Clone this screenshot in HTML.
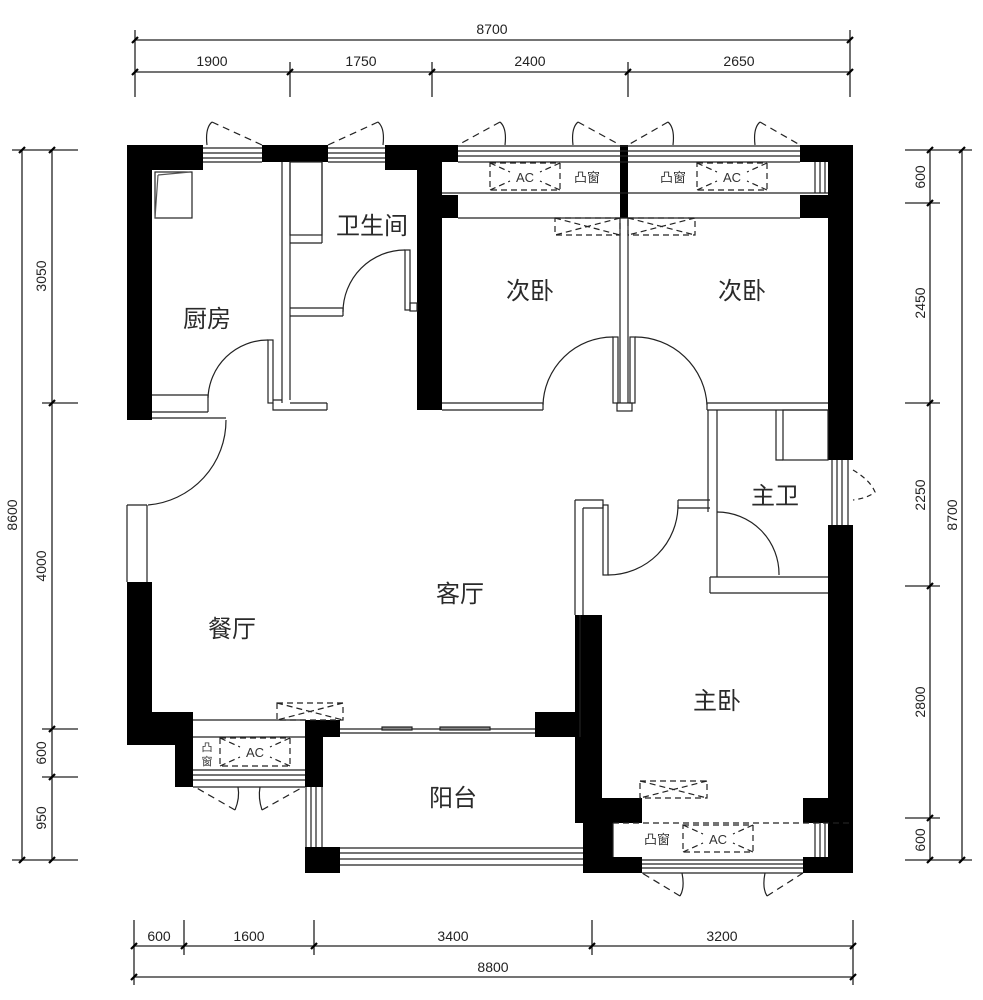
<!DOCTYPE html>
<html><head><meta charset="utf-8"><style>
html,body{margin:0;padding:0;background:#fff;}
svg{display:block}
.d{font-family:"Liberation Sans Narrow","Liberation Sans",sans-serif;font-size:14px;fill:#222}
.r{font-family:"Liberation Sans","Noto Sans CJK SC",sans-serif;font-size:24px;fill:#2a2a2a}
.s{font-family:"Liberation Sans","Noto Sans CJK SC",sans-serif;font-size:13px;fill:#333}
</style></head><body>
<svg width="983" height="1000" viewBox="0 0 983 1000" xmlns="http://www.w3.org/2000/svg">
<g stroke="#222" stroke-width="1.3" fill="none">
<line x1="135" y1="40" x2="850" y2="40"/>
<line x1="135" y1="72" x2="850" y2="72"/>
<line x1="135" y1="30" x2="135" y2="97"/><line x1="850" y1="30" x2="850" y2="97"/>
<line x1="290" y1="62" x2="290" y2="97"/><line x1="432" y1="62" x2="432" y2="97"/><line x1="628" y1="62" x2="628" y2="97"/>
<line x1="22" y1="150" x2="22" y2="860"/>
<line x1="52" y1="150" x2="52" y2="860"/>
<line x1="12" y1="150" x2="78" y2="150"/><line x1="12" y1="860" x2="78" y2="860"/>
<line x1="42" y1="403" x2="78" y2="403"/><line x1="42" y1="729" x2="78" y2="729"/><line x1="42" y1="777" x2="78" y2="777"/>
<line x1="930" y1="150" x2="930" y2="860"/>
<line x1="962" y1="150" x2="962" y2="860"/>
<line x1="905" y1="150" x2="972" y2="150"/><line x1="905" y1="860" x2="972" y2="860"/>
<line x1="905" y1="203" x2="940" y2="203"/><line x1="905" y1="403" x2="940" y2="403"/><line x1="905" y1="586" x2="940" y2="586"/><line x1="905" y1="818" x2="940" y2="818"/>
<line x1="134" y1="946" x2="853" y2="946"/>
<line x1="134" y1="977" x2="853" y2="977"/>
<line x1="134" y1="920" x2="134" y2="985"/><line x1="853" y1="920" x2="853" y2="985"/>
<line x1="184" y1="920" x2="184" y2="955"/><line x1="314" y1="920" x2="314" y2="955"/><line x1="592" y1="920" x2="592" y2="955"/>
</g>
<g stroke="#000" stroke-width="2.2">
<path d="M132 43 L138 37 M847 43 L853 37 M132 75 L138 69 M287 75 L293 69 M429 75 L435 69 M625 75 L631 69 M847 75 L853 69"/>
<path d="M19 153 L25 147 M19 863 L25 857 M49 153 L55 147 M49 406 L55 400 M49 732 L55 726 M49 780 L55 774 M49 863 L55 857"/>
<path d="M927 153 L933 147 M927 206 L933 200 M927 406 L933 400 M927 589 L933 583 M927 821 L933 815 M927 863 L933 857 M959 153 L965 147 M959 863 L965 857"/>
<path d="M131 949 L137 943 M181 949 L187 943 M311 949 L317 943 M589 949 L595 943 M850 949 L856 943 M131 980 L137 974 M850 980 L856 974"/>
</g>
<g class="d">
<text x="492" y="34" text-anchor="middle">8700</text>
<text x="212" y="66" text-anchor="middle">1900</text>
<text x="361" y="66" text-anchor="middle">1750</text>
<text x="530" y="66" text-anchor="middle">2400</text>
<text x="739" y="66" text-anchor="middle">2650</text>
<text x="159" y="941" text-anchor="middle">600</text>
<text x="249" y="941" text-anchor="middle">1600</text>
<text x="453" y="941" text-anchor="middle">3400</text>
<text x="722" y="941" text-anchor="middle">3200</text>
<text x="493" y="972" text-anchor="middle">8800</text>
<text transform="translate(17,515) rotate(-90)" text-anchor="middle">8600</text>
<text transform="translate(46,276) rotate(-90)" text-anchor="middle">3050</text>
<text transform="translate(46,566) rotate(-90)" text-anchor="middle">4000</text>
<text transform="translate(46,753) rotate(-90)" text-anchor="middle">600</text>
<text transform="translate(46,818) rotate(-90)" text-anchor="middle">950</text>
<text transform="translate(925,177) rotate(-90)" text-anchor="middle">600</text>
<text transform="translate(925,303) rotate(-90)" text-anchor="middle">2450</text>
<text transform="translate(925,495) rotate(-90)" text-anchor="middle">2250</text>
<text transform="translate(925,702) rotate(-90)" text-anchor="middle">2800</text>
<text transform="translate(925,840) rotate(-90)" text-anchor="middle">600</text>
<text transform="translate(957,515) rotate(-90)" text-anchor="middle">8700</text>
</g>

<g fill="#000">
<rect x="127" y="145" width="76" height="25"/>
<rect x="127" y="145" width="25" height="275"/>
<rect x="262" y="145" width="66" height="17"/>
<rect x="385" y="145" width="57" height="25"/>
<rect x="417" y="145" width="25" height="265"/>
<rect x="442" y="195" width="16" height="23"/>
<rect x="442" y="145" width="16" height="17"/>
<rect x="620" y="145" width="8" height="73"/>
<rect x="800" y="145" width="53" height="17"/>
<rect x="800" y="195" width="28" height="23"/>
<rect x="828" y="145" width="25" height="315"/>
<rect x="828" y="525" width="25" height="348"/>
<rect x="127" y="582" width="25" height="163"/>
<rect x="127" y="712" width="66" height="33"/>
<rect x="175" y="712" width="18" height="75"/>
<rect x="305" y="720" width="35" height="17"/>
<rect x="305" y="720" width="18" height="67"/>
<rect x="535" y="712" width="45" height="25"/>
<rect x="575" y="615" width="27" height="208"/>
<rect x="575" y="798" width="67" height="25"/>
<rect x="583" y="798" width="30" height="75"/>
<rect x="583" y="857" width="59" height="16"/>
<rect x="803" y="798" width="50" height="25"/>
<rect x="803" y="857" width="50" height="16"/>
<rect x="305" y="847" width="35" height="26"/>
</g>

<g stroke="#222" stroke-width="1.2" fill="none">
<line x1="203" y1="148" x2="262" y2="148"/><line x1="203" y1="153" x2="262" y2="153"/><line x1="203" y1="158" x2="262" y2="158"/><line x1="203" y1="162" x2="262" y2="162"/>
<line x1="328" y1="148" x2="385" y2="148"/><line x1="328" y1="153" x2="385" y2="153"/><line x1="328" y1="158" x2="385" y2="158"/><line x1="328" y1="162" x2="385" y2="162"/>
<line x1="458" y1="146" x2="800" y2="146"/><line x1="458" y1="151" x2="800" y2="151"/><line x1="458" y1="156" x2="800" y2="156"/><line x1="458" y1="162" x2="800" y2="162"/>
<line x1="442" y1="193" x2="800" y2="193"/>
<line x1="458" y1="218" x2="800" y2="218"/>
<line x1="815" y1="162" x2="815" y2="193"/><line x1="820" y1="162" x2="820" y2="193"/><line x1="825" y1="162" x2="825" y2="193"/>
<line x1="800" y1="193" x2="828" y2="193"/>
<path d="M207 145 Q205 128 212 122"/><path d="M212 122 L262 145" stroke-dasharray="7,5"/>
<path d="M383 145 Q385 128 378 122"/><path d="M378 122 L328 145" stroke-dasharray="7,5"/>
<path d="M505 145 Q507 128 500 122"/><path d="M500 122 L458 145" stroke-dasharray="7,5"/>
<path d="M573 145 Q571 128 578 122"/><path d="M578 122 L620 145" stroke-dasharray="7,5"/>
<path d="M673 145 Q675 128 668 122"/><path d="M668 122 L628 145" stroke-dasharray="7,5"/>
<path d="M755 145 Q753 128 760 122"/><path d="M760 122 L800 145" stroke-dasharray="7,5"/>
<g stroke-dasharray="6,4">
<rect x="490" y="163" width="70" height="27"/>
<path d="M490 163 L510 172 M560 163 L540 172 M490 190 L510 181 M560 190 L540 181"/>
<rect x="697" y="163" width="70" height="27"/>
<path d="M697 163 L717 172 M767 163 L747 172 M697 190 L717 181 M767 190 L747 181"/>
<rect x="555" y="218" width="65" height="17"/>
<path d="M555 218 L620 235 M620 218 L555 235"/>
<rect x="628" y="218" width="67" height="17"/>
<path d="M628 218 L695 235 M695 218 L628 235"/>
</g>
<rect x="155" y="172" width="37" height="46"/>
<path d="M158 175 L190 172 M158 175 L155 218" stroke="#555"/>
<line x1="152" y1="395" x2="208" y2="395"/><line x1="152" y1="412" x2="208" y2="412"/><line x1="208" y1="395" x2="208" y2="412"/>
<rect x="268" y="340" width="5" height="63"/>
<path d="M208 398 A60 60 0 0 1 268 340"/>
<line x1="282" y1="162" x2="282" y2="400"/><line x1="290" y1="162" x2="290" y2="400"/>
<path d="M273 400 L282 400 M273 403 L273 410 L290 410 M282 400 L282 403"/>
<rect x="290" y="162" width="32" height="73"/>
<line x1="290" y1="243" x2="322" y2="243"/><line x1="322" y1="162" x2="322" y2="243"/>
<line x1="290" y1="308" x2="343" y2="308"/><line x1="290" y1="316" x2="343" y2="316"/><line x1="343" y1="308" x2="343" y2="316"/>
<line x1="290" y1="403" x2="327" y2="403"/><line x1="290" y1="410" x2="327" y2="410"/><line x1="327" y1="403" x2="327" y2="410"/>
<rect x="405" y="250" width="5" height="60"/>
<rect x="410" y="303" width="7" height="8"/>
<path d="M343 312 A62 62 0 0 1 405 250"/>
<line x1="442" y1="403" x2="543" y2="403"/><line x1="442" y1="410" x2="543" y2="410"/><line x1="543" y1="403" x2="543" y2="410"/>
<line x1="620" y1="218" x2="620" y2="403"/><line x1="628" y1="218" x2="628" y2="403"/>
<rect x="613" y="337" width="5" height="66"/><rect x="630" y="337" width="5" height="66"/>
<rect x="617" y="403" width="15" height="8"/>
<path d="M543 405 A70 70 0 0 1 613 337"/>
<path d="M707 405 A72 72 0 0 0 635 337"/>
<line x1="707" y1="403" x2="828" y2="403"/><line x1="707" y1="410" x2="828" y2="410"/><line x1="707" y1="403" x2="707" y2="410"/>
<path d="M708 410 L708 512 M717 410 L717 512"/>
<rect x="783" y="410" width="45" height="50"/>
<path d="M776 410 L776 460 L783 460"/>
<line x1="717" y1="512" x2="717" y2="577"/>
<path d="M717 512 A62 62 0 0 1 779 575"/>
<path d="M710 577 L828 577 M710 593 L828 593 M710 577 L710 593"/>
<line x1="832" y1="460" x2="832" y2="525"/><line x1="837" y1="460" x2="837" y2="525"/><line x1="842" y1="460" x2="842" y2="525"/><line x1="848" y1="460" x2="848" y2="525"/>
<path d="M853 470 Q870 480 875 492 Q868 498 853 500" stroke-dasharray="5,4"/>
<path d="M575 500 L575 615 M583 508 L583 615 M575 500 L603 500 L603 508 L583 508"/>
<rect x="603" y="505" width="5" height="70"/>
<path d="M608 575 A70 70 0 0 0 678 505"/>
<path d="M678 500 L710 500 M678 508 L710 508 M678 500 L678 508"/>
<g stroke-dasharray="6,4">
<rect x="640" y="781" width="67" height="17"/>
<path d="M640 781 L707 798 M707 781 L640 798"/>
<line x1="613" y1="823" x2="853" y2="823"/>
<rect x="683" y="825" width="70" height="27"/>
<path d="M683 825 L703 834 M753 825 L733 834 M683 852 L703 843 M753 852 L733 843"/>
</g>
<line x1="613" y1="823" x2="613" y2="857"/>
<line x1="642" y1="860" x2="803" y2="860"/><line x1="642" y1="864" x2="803" y2="864"/><line x1="642" y1="868" x2="803" y2="868"/><line x1="642" y1="873" x2="803" y2="873"/>
<line x1="815" y1="823" x2="815" y2="857"/><line x1="820" y1="823" x2="820" y2="857"/><line x1="825" y1="823" x2="825" y2="857"/>
<path d="M682 873 Q685 888 680 896"/><path d="M680 896 L642 873" stroke-dasharray="7,5"/>
<path d="M765 873 Q762 888 767 896"/><path d="M767 896 L803 873" stroke-dasharray="7,5"/>
<path d="M127 505 L127 582 M147 505 L147 582 M127 505 L147 505"/>
<path d="M148 505 A85 85 0 0 0 226 420"/>
<line x1="152" y1="418" x2="226" y2="418"/>
<line x1="193" y1="720" x2="305" y2="720"/><line x1="193" y1="737" x2="305" y2="737"/>
<line x1="193" y1="770" x2="305" y2="770"/><line x1="193" y1="775" x2="305" y2="775"/><line x1="193" y1="780" x2="305" y2="780"/><line x1="193" y1="787" x2="305" y2="787"/>
<g stroke-dasharray="6,4">
<rect x="220" y="738" width="70" height="28"/>
<path d="M220 738 L240 747 M290 738 L270 747 M220 766 L240 757 M290 766 L270 757"/>
<rect x="277" y="703" width="66" height="17"/>
<path d="M277 703 L343 720 M343 703 L277 720"/>
</g>
<path d="M238 787 Q240 798 235 810"/><path d="M235 810 L195 787" stroke-dasharray="7,5"/>
<path d="M260 787 Q258 798 262 810"/><path d="M262 810 L303 787" stroke-dasharray="7,5"/>
<line x1="340" y1="729" x2="535" y2="729"/><line x1="340" y1="733" x2="535" y2="733"/>
<rect x="382" y="727" width="30" height="3" fill="#888"/><rect x="440" y="727" width="50" height="3" fill="#888"/>
<line x1="306" y1="787" x2="306" y2="847"/><line x1="311" y1="787" x2="311" y2="847"/><line x1="316" y1="787" x2="316" y2="847"/><line x1="322" y1="787" x2="322" y2="847"/>
<line x1="340" y1="848" x2="583" y2="848"/><line x1="340" y1="853" x2="583" y2="853"/><line x1="340" y1="859" x2="583" y2="859"/><line x1="340" y1="865" x2="583" y2="865"/>
<line x1="580" y1="737" x2="580" y2="615"/>
</g>

<g class="r">
<text x="207" y="327" text-anchor="middle">厨房</text>
<text x="372" y="234" text-anchor="middle">卫生间</text>
<text x="530" y="299" text-anchor="middle">次卧</text>
<text x="742" y="299" text-anchor="middle">次卧</text>
<text x="775" y="504" text-anchor="middle">主卫</text>
<text x="460" y="602" text-anchor="middle">客厅</text>
<text x="232" y="637" text-anchor="middle">餐厅</text>
<text x="717" y="709" text-anchor="middle">主卧</text>
<text x="453" y="806" text-anchor="middle">阳台</text>
</g>
<g class="s">
<text x="525" y="182" text-anchor="middle">AC</text>
<text x="587" y="182" text-anchor="middle">凸窗</text>
<text x="673" y="182" text-anchor="middle">凸窗</text>
<text x="732" y="182" text-anchor="middle">AC</text>
<text x="255" y="757" text-anchor="middle">AC</text>
<text x="207" y="751" text-anchor="middle" font-size="11">凸</text>
<text x="207" y="765" text-anchor="middle" font-size="11">窗</text>
<text x="657" y="844" text-anchor="middle">凸窗</text>
<text x="718" y="844" text-anchor="middle">AC</text>
</g>
</svg>
</body></html>
